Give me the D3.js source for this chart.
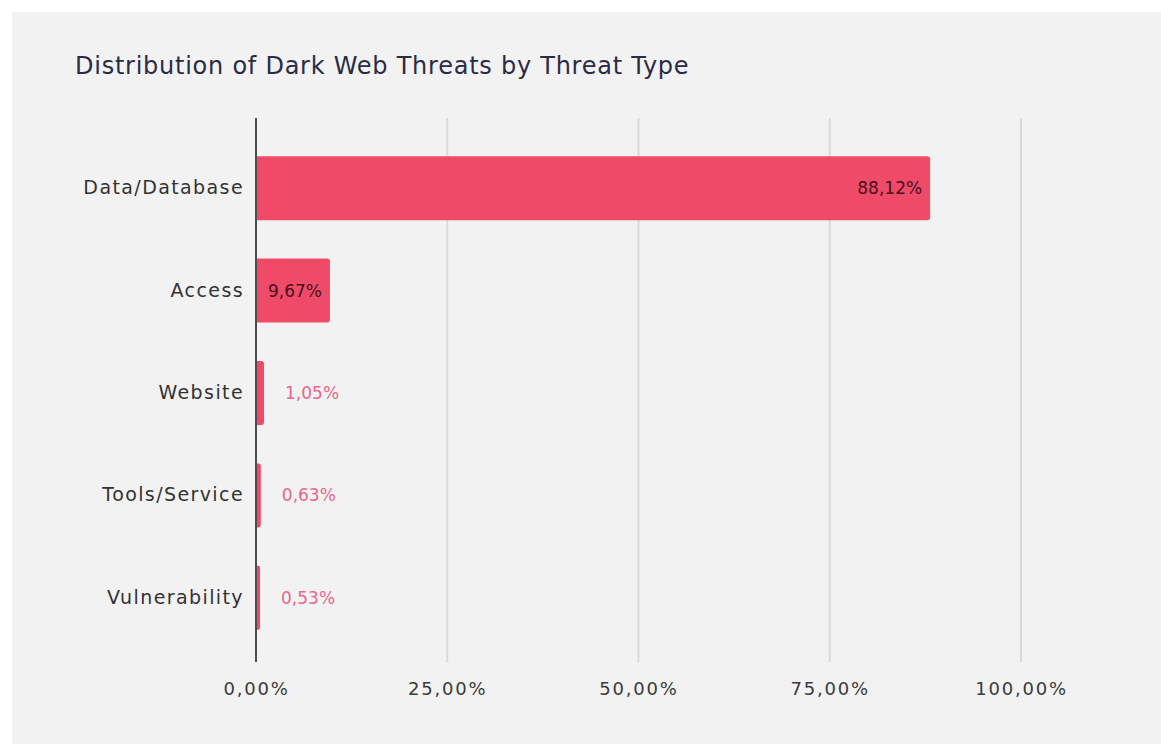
<!DOCTYPE html>
<html>
<head>
<meta charset="utf-8">
<script src="https://cdn.jsdelivr.net/npm/d3@7"></script>
<style>
  html, body { margin: 0; padding: 0; background: #ffffff; }
  svg { display: block; }
</style>
</head>
<body>
<svg id="chart" width="1161" height="744"></svg>
<script>
// data
const categories = ['Data/Database', 'Access', 'Website', 'Tools/Service', 'Vulnerability'];
const values = [88.12, 9.67, 1.05, 0.63, 0.53];
const tickValues = [0, 25, 50, 75, 100];
const chartTitle = 'Distribution of Dark Web Threats by Threat Type';

const fmt = v => v.toFixed(2).replace('.', ',') + '%';
const font = '"DejaVu Sans", Verdana, sans-serif';

const svg = d3.select('#chart');

// panel background
svg.append('rect')
    .attr('x', 12).attr('y', 12)
    .attr('width', 1161 - 12).attr('height', 744 - 12)
    .attr('fill', '#f2f2f2');

svg.append('text')
    .attr('x', 75).attr('y', 74)
    .attr('font-family', font)
    .attr('font-size', 24)
    .attr('letter-spacing', 0.75)
    .attr('fill', '#2b2b45')
    .text(chartTitle);

let x = d3.scaleLinear()
    .domain([0, 100])
    .range([256, 1021]);

let y = d3.scaleBand()
    .domain(categories)
    .range([137, 649])
    .paddingInner(0.375)
    .paddingOuter(0.1875);

const gridTop = 118, gridBottom = 662;

// gridlines
svg.append('g')
    .selectAll('line')
    .data(tickValues.filter(d => d > 0))
    .join('line')
    .attr('x1', d => x(d)).attr('x2', d => x(d))
    .attr('y1', gridTop).attr('y2', gridBottom)
    .attr('stroke', '#d9d9d9')
    .attr('stroke-width', 2);

// x axis labels
let axisX = d3.axisBottom(x)
    .tickValues(tickValues)
    .tickSize(0)
    .tickPadding(0)
    .tickFormat(d => d.toFixed(2).replace('.', ',') + '%');

let gx = svg.append('g')
    .attr('transform', `translate(0,${gridBottom + 20})`)
    .call(axisX);
gx.select('.domain').remove();
gx.selectAll('text')
    .attr('font-family', font)
    .attr('font-size', 18)
    .attr('letter-spacing', 1.8)
    .attr('fill', '#3a3a3a');

// y axis labels
let axisY = d3.axisLeft(y).tickSize(0).tickPadding(12);
let gy = svg.append('g')
    .attr('transform', `translate(${x(0)},0)`)
    .call(axisY);
gy.select('.domain').remove();
gy.selectAll('text')
    .attr('font-family', font)
    .attr('font-size', 19)
    .attr('letter-spacing', 1.4)
    .attr('fill', '#333333');

// bars with rounded right end
const r = 3;
svg.append('g')
    .selectAll('path')
    .data(values)
    .join('path')
    .attr('fill', '#ef4b68')
    .attr('d', (d, i) => {
        let x0 = x(0), x1 = x(d);
        let y0 = y(categories[i]), h = y.bandwidth();
        let rr = Math.min(r, (x1 - x0) / 2);
        return `M${x0},${y0}H${x1 - rr}Q${x1},${y0} ${x1},${y0 + rr}` +
            `V${y0 + h - rr}Q${x1},${y0 + h} ${x1 - rr},${y0 + h}H${x0}Z`;
    });

// value labels
svg.append('g')
    .selectAll('text')
    .data(values)
    .join('text')
    .attr('x', d => d > 5 ? x(d) - 8 : x(d) + 21)
    .attr('y', (d, i) => y(categories[i]) + y.bandwidth() / 2)
    .attr('dy', '0.35em')
    .attr('text-anchor', d => d > 5 ? 'end' : 'start')
    .attr('font-family', font)
    .attr('font-size', 17)
    .attr('fill', d => d > 5 ? '#4a0f1c' : '#e8678a')
    .text(d => fmt(d));

// zero line
svg.append('line')
    .attr('x1', x(0)).attr('x2', x(0))
    .attr('y1', gridTop).attr('y2', gridBottom)
    .attr('stroke', '#4d4d4d')
    .attr('stroke-width', 2);
</script>
</body>
</html>
